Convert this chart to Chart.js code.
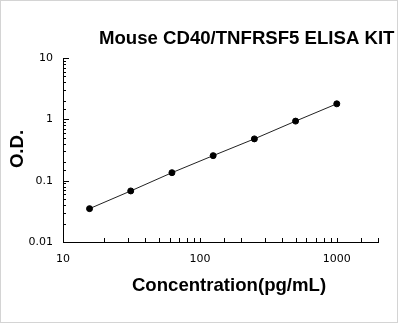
<!DOCTYPE html>
<html>
<head>
<meta charset="utf-8">
<script src="https://cdn.jsdelivr.net/npm/chart.js@4/dist/chart.umd.min.js"></script>
<style>
  html, body { margin: 0; padding: 0; background: #fff; }
  canvas { display: block; }
</style>
</head>
<body>
<canvas id="elisaChart" width="398" height="323"></canvas>
<script>
// standard curve data
const concentrations = [15.625, 31.25, 62.5, 125, 250, 500, 1000];
const odValues = [0.035, 0.068, 0.135, 0.256, 0.48, 0.935, 1.79];
const xTickLabels = [10, 100, 1000];
const yTickLabels = [0.01, 0.1, 1, 10];

const chartTitle = 'Mouse CD40/TNFRSF5 ELISA KIT';
const xTitle = 'Concentration(pg/mL)';
const yTitle = 'O.D.';

function isDecade(v) {
    const l = Math.log10(v);
    return Math.abs(l - Math.round(l)) < 1e-6;
}

function labelFor(list) {
    return function(value) {
        const hit = list.find(t => Math.abs(t - value) / t < 1e-6);
        return hit === undefined ? '' : String(hit);
    };
}

// frame, inward tick marks and the bold titles
const decorations = {
    id: 'decorations',
    beforeDraw(chart) {
        const ctx = chart.ctx;
        ctx.save();
        ctx.fillStyle = '#fff';
        ctx.fillRect(0, 0, chart.width, chart.height);
        ctx.strokeStyle = '#d4d4d4';
        ctx.lineWidth = 1;
        ctx.strokeRect(0.5, 0.5, chart.width - 1, chart.height - 1);
        ctx.restore();
    },
    afterDraw(chart) {
        const ctx = chart.ctx;
        const xs = chart.scales.x, ys = chart.scales.y;
        const area = chart.chartArea;
        ctx.save();
        ctx.strokeStyle = '#000';
        ctx.lineWidth = 1;
        ctx.beginPath();
        xs.ticks.forEach(t => {
            if (t.value <= xs.min) return;
            const px = Math.round(xs.getPixelForValue(t.value)) + 0.5;
            ctx.moveTo(px, area.bottom);
            ctx.lineTo(px, area.bottom - 4);
        });
        ys.ticks.forEach(t => {
            if (t.value <= ys.min) return;
            const py = Math.round(ys.getPixelForValue(t.value)) + 0.5;
            const len = isDecade(t.value) ? 6 : 3;
            ctx.moveTo(area.left, py);
            ctx.lineTo(area.left + len, py);
        });
        ctx.stroke();

        ctx.fillStyle = '#000';
        ctx.font = 'bold 18.6px "Liberation Sans", Arial, sans-serif';
        ctx.textAlign = 'left';
        ctx.textBaseline = 'alphabetic';
        ctx.fillText(chartTitle, 99, 44);

        ctx.textAlign = 'center';
        ctx.fillText(xTitle, 229, 291);

        ctx.translate(23, 149);
        ctx.rotate(-Math.PI / 2);
        ctx.fillText(yTitle, 0, 0);
        ctx.restore();
    }
};

const tickFont = { family: '"DejaVu Sans", Verdana, sans-serif', size: 11 };

new Chart(document.getElementById('elisaChart').getContext('2d'), {
    type: 'line',
    data: {
        datasets: [{
            data: concentrations.map((c, i) => ({ x: c, y: odValues[i] })),
            borderColor: '#222',
            borderWidth: 1,
            backgroundColor: '#000',
            pointBackgroundColor: '#000',
            pointBorderColor: '#000',
            pointRadius: 3,
            tension: 0,
            fill: false
        }]
    },
    options: {
        responsive: false,
        animation: false,
        devicePixelRatio: 1,
        layout: { padding: { top: 58, right: 20, bottom: 0, left: 0 } },
        plugins: {
            legend: { display: false },
            title: { display: false },
            tooltip: { enabled: false }
        },
        scales: {
            x: {
                type: 'logarithmic',
                min: 10,
                max: 2000,
                grid: { display: false, drawTicks: false },
                border: { display: true, color: '#000', width: 1 },
                ticks: {
                    autoSkip: false,
                    maxRotation: 0,
                    padding: 11,
                    color: '#000',
                    font: tickFont,
                    callback: labelFor(xTickLabels)
                },
                afterFit(scale) { scale.height = 81; }
            },
            y: {
                type: 'logarithmic',
                min: 0.01,
                max: 10,
                grid: { display: false, drawTicks: false },
                border: { display: true, color: '#000', width: 1 },
                ticks: {
                    autoSkip: false,
                    padding: 10,
                    color: '#000',
                    font: tickFont,
                    callback: labelFor(yTickLabels)
                },
                afterFit(scale) { scale.width = 63; }
            }
        }
    },
    plugins: [decorations]
});
</script>
</body>
</html>
